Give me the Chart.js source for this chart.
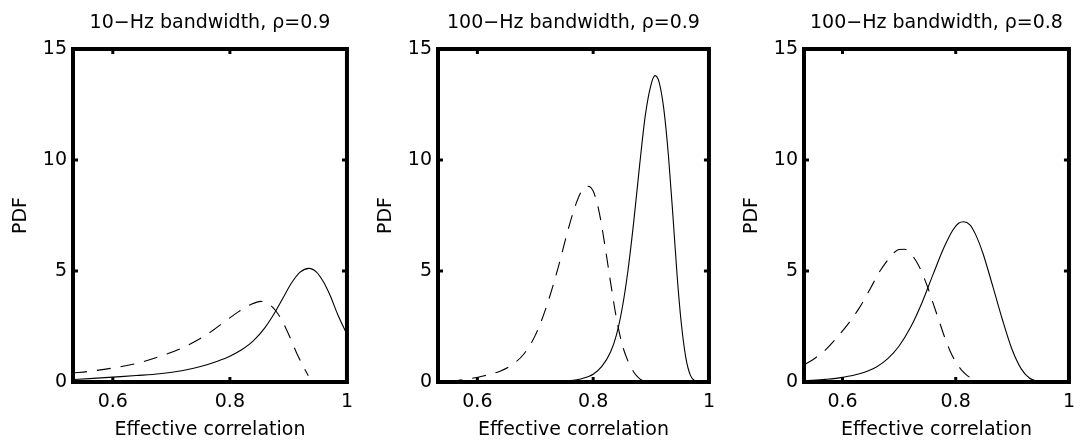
<!DOCTYPE html>
<html><head><meta charset="utf-8">
<script src="https://cdn.jsdelivr.net/npm/chart.js@4.4.1/dist/chart.umd.min.js"></script>
<style>
html,body{margin:0;padding:0;background:#fff;width:1084px;height:441px;overflow:hidden;}
canvas{position:absolute;top:0;}
</style></head><body>
<canvas id="c0" width="362" height="441" style="left:0px"></canvas>
<canvas id="c1" width="362" height="441" style="left:362px"></canvas>
<canvas id="c2" width="360" height="441" style="left:724px"></canvas>
<script>
// ---------------- data ----------------
const panelTitles = ["10\u2212Hz bandwidth, \u03c1=0.9", "100\u2212Hz bandwidth, \u03c1=0.9", "100\u2212Hz bandwidth, \u03c1=0.8"];
const xAxisTitle = "Effective correlation";
const yAxisTitle = "PDF";
const xTickValues = [0.6, 0.8, 1];
const xTickLabels = ["0.6", "0.8", "1"];
const yTickValues = [0, 5, 10, 15];
const xMin = 0.532, xMax = 1, yMin = 0, yMax = 15;

// Panel 1: 10-Hz bandwidth, rho=0.9
const p1SolidX  = [0.532, 0.56, 0.60, 0.64, 0.68, 0.72, 0.75, 0.78, 0.80, 0.82, 0.84, 0.86, 0.875, 0.89, 0.905, 0.92, 0.935, 0.948, 0.96, 0.972, 0.984, 1.0];
const p1SolidY  = [0.11, 0.15, 0.22, 0.29, 0.37, 0.52, 0.70, 0.95, 1.16, 1.45, 1.85, 2.45, 3.05, 3.75, 4.45, 4.95, 5.12, 4.95, 4.50, 3.85, 3.05, 2.15];
const p1DashX   = [0.532, 0.56, 0.60, 0.64, 0.68, 0.72, 0.76, 0.79, 0.815, 0.835, 0.853, 0.866, 0.878, 0.89, 0.902, 0.915, 0.925, 0.934];
const p1DashY   = [0.40, 0.48, 0.63, 0.83, 1.15, 1.55, 2.13, 2.70, 3.17, 3.48, 3.63, 3.52, 3.22, 2.72, 2.05, 1.25, 0.72, 0.28];

// Panel 2: 100-Hz bandwidth, rho=0.9
const p2SolidX  = [0.75, 0.78, 0.80, 0.815, 0.83, 0.84, 0.85, 0.86, 0.87, 0.88, 0.89, 0.90, 0.907, 0.914, 0.922, 0.93, 0.938, 0.945, 0.952, 0.96, 0.968, 0.976, 0.985];
const p2SolidY  = [0.03, 0.15, 0.35, 0.70, 1.35, 2.10, 3.30, 5.00, 7.20, 9.70, 12.0, 13.4, 13.8, 13.5, 12.3, 10.2, 7.4, 4.8, 2.7, 1.1, 0.30, 0.05, 0.0];
const p2DashX   = [0.55, 0.58, 0.61, 0.64, 0.66, 0.68, 0.70, 0.72, 0.74, 0.755, 0.77, 0.78, 0.791, 0.80, 0.81, 0.82, 0.83, 0.84, 0.85, 0.86, 0.87, 0.88, 0.888];
const p2DashY   = [0.02, 0.12, 0.27, 0.50, 0.78, 1.25, 2.10, 3.45, 5.20, 6.70, 8.00, 8.60, 8.82, 8.60, 7.70, 6.20, 4.50, 2.90, 1.70, 0.95, 0.45, 0.15, 0.03];

// Panel 3: 100-Hz bandwidth, rho=0.8
const p3SolidX  = [0.534, 0.57, 0.60, 0.63, 0.66, 0.68, 0.70, 0.72, 0.74, 0.76, 0.78, 0.795, 0.805, 0.814, 0.825, 0.835, 0.848, 0.865, 0.882, 0.899, 0.916, 0.93, 0.945];
const p3SolidY  = [0.05, 0.12, 0.21, 0.37, 0.68, 1.05, 1.62, 2.45, 3.55, 4.85, 6.10, 6.85, 7.15, 7.22, 7.08, 6.65, 5.80, 4.35, 2.85, 1.50, 0.58, 0.18, 0.02];
const p3DashX   = [0.534, 0.55, 0.57, 0.59, 0.61, 0.63, 0.65, 0.665, 0.68, 0.69, 0.70, 0.71, 0.72, 0.73, 0.74, 0.75, 0.76, 0.77, 0.78, 0.79, 0.80, 0.81, 0.82, 0.83, 0.84, 0.85];
const p3DashY   = [0.80, 1.05, 1.45, 2.00, 2.62, 3.35, 4.25, 4.95, 5.50, 5.80, 5.97, 5.98, 5.80, 5.45, 4.95, 4.30, 3.55, 2.80, 2.05, 1.40, 0.90, 0.55, 0.30, 0.14, 0.05, 0.01];

// ---------------- layout (pixels) ----------------
const FONT = '"DejaVu Sans", "Liberation Sans", Arial, sans-serif';
const FS = 19;
const panels = [
  {id:'c0', canvasLeft:0,   canvasW:362, plotLeft:73,  plotRight:349,  yTitlePad:9.6,  solid:[p1SolidX,p1SolidY], dash:[p1DashX,p1DashY]},
  {id:'c1', canvasLeft:362, canvasW:362, plotLeft:438, plotRight:714,  yTitlePad:12.6, solid:[p2SolidX,p2SolidY], dash:[p2DashX,p2DashY]},
  {id:'c2', canvasLeft:724, canvasW:360, plotLeft:804, plotRight:1080, yTitlePad:17,   solid:[p3SolidX,p3SolidY], dash:[p3DashX,p3DashY]}
];
const PLOT_TOP = 49, PLOT_BOTTOM = 382, H = 441;

function toPts(xs, ys){ return xs.map((x,i)=>({x:x, y:ys[i]})); }

const framePlugin = {
  id: 'frame',
  afterDatasetsDraw(chart, args, opts) {
    const {ctx, chartArea: a, scales} = chart;
    ctx.save();
    ctx.strokeStyle = '#000';
    ctx.lineCap = 'butt';
    ctx.lineWidth = 3;
    const tl = 5;
    const seg = (x1,y1,x2,y2)=>{ctx.beginPath();ctx.moveTo(x1,y1);ctx.lineTo(x2,y2);ctx.stroke();};
    xTickValues.forEach(v=>{
      const px = scales.x.getPixelForValue(v);
      if (px > a.left+4 && px < a.right-4) { seg(px,a.bottom,px,a.bottom-tl); seg(px,a.top,px,a.top+tl); }
    });
    yTickValues.forEach(v=>{
      const py = scales.y.getPixelForValue(v);
      if (py > a.top+4 && py < a.bottom-4) { seg(a.left,py,a.left+tl,py); seg(a.right,py,a.right-tl,py); }
    });
    ctx.lineWidth = 4;
    ctx.lineJoin = 'miter';
    ctx.strokeRect(a.left, a.top, a.right-a.left, a.bottom-a.top);
    ctx.fillStyle = '#000';
    ctx.font = FS + 'px ' + FONT;
    ctx.textAlign = 'center';
    ctx.textBaseline = 'alphabetic';
    ctx.fillText(opts.text, (a.left+a.right)/2, 28);
    ctx.restore();
  }
};

panels.forEach((p, i) => {
  const ctx = document.getElementById(p.id).getContext('2d');
  new Chart(ctx, {
    type: 'line',
    data: {
      datasets: [
        {data: toPts(p.solid[0], p.solid[1]), borderColor:'#000', borderWidth:1.1, pointRadius:0, fill:false, cubicInterpolationMode:'monotone'},
        {data: toPts(p.dash[0], p.dash[1]), borderColor:'#000', borderWidth:1.1, borderDash:[14,10], pointRadius:0, fill:false, cubicInterpolationMode:'monotone'}
      ]
    },
    options: {
      responsive:false, animation:false, devicePixelRatio:1,
      layout:{autoPadding:false, padding:{top:PLOT_TOP, left:0, right:p.canvasLeft + p.canvasW - p.plotRight, bottom:0}},
      plugins:{legend:{display:false}, tooltip:{enabled:false}, title:{display:false}, frame:{text:panelTitles[i]}},
      scales:{
        x:{type:'linear', min:xMin, max:xMax,
           afterBuildTicks: s => { s.ticks = xTickValues.map(v=>({value:v})); },
           afterFit: s => { s.height = H - PLOT_BOTTOM; },
           grid:{display:false, drawTicks:false}, border:{display:false},
           ticks:{padding:9, color:'#000', font:{family:FONT, size:FS}, maxRotation:0, autoSkip:false,
                  callback:(v)=>{ const k = xTickValues.indexOf(v); return k>=0 ? xTickLabels[k] : ''; }},
           title:{display:true, text:xAxisTitle, color:'#000', font:{family:FONT, size:FS}, padding:{top:0,bottom:0}}
        },
        y:{type:'linear', min:yMin, max:yMax,
           afterBuildTicks: s => { s.ticks = yTickValues.map(v=>({value:v})); },
           afterFit: s => { s.width = p.plotLeft - p.canvasLeft; },
           grid:{display:false, drawTicks:false}, border:{display:false},
           ticks:{padding:6, color:'#000', font:{family:FONT, size:FS}, callback:(v)=>String(v)},
           title:{display:true, text:yAxisTitle, color:'#000', font:{family:FONT, size:FS}, padding:{top:p.yTitlePad, bottom:0}}
        }
      }
    },
    plugins:[framePlugin]
  });
});
</script>
</body></html>
